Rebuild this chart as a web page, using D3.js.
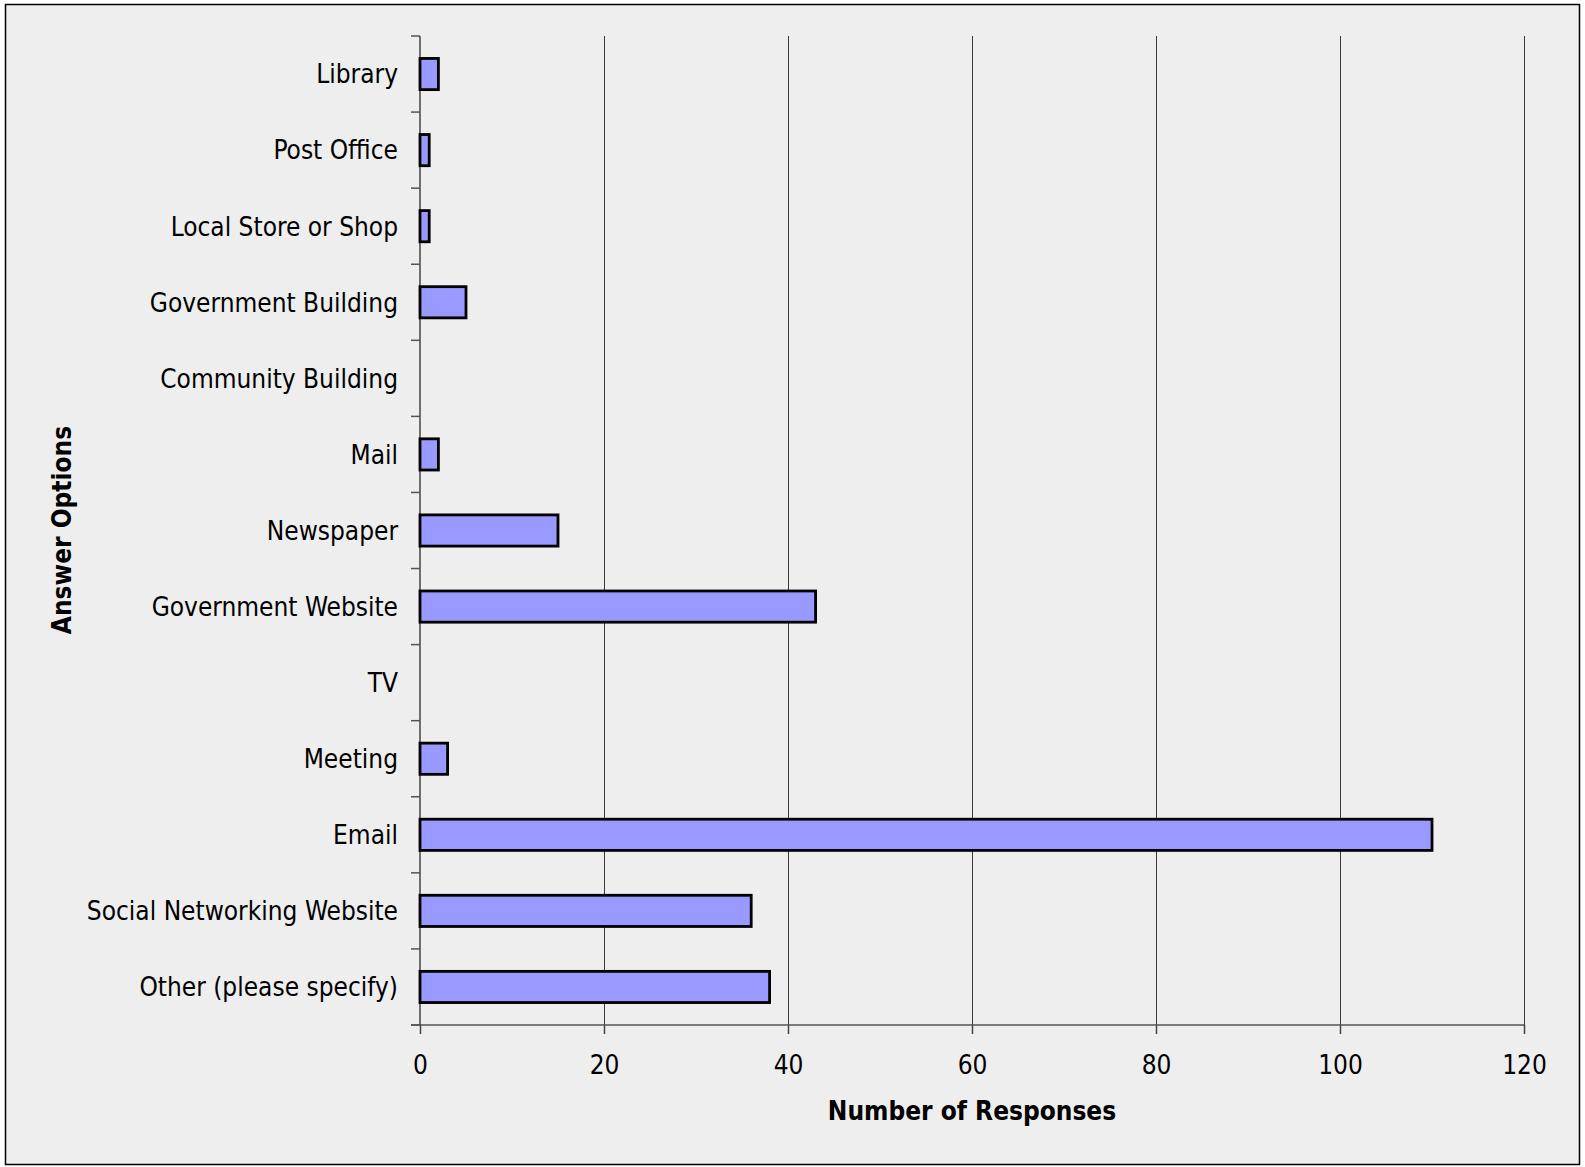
<!DOCTYPE html>
<html><head><meta charset="utf-8">
<script src="https://cdn.jsdelivr.net/npm/d3@7"></script>
<style>
html,body{margin:0;padding:0;background:#fff;}
svg{display:block;}
text{font-family:"DejaVu Sans Condensed","DejaVu Sans",sans-serif;fill:#000;}
</style></head>
<body>
<svg id="chart" width="1585" height="1167"></svg>
<script>
const categories = ["Library","Post Office","Local Store or Shop","Government Building","Community Building","Mail","Newspaper","Government Website","TV","Meeting","Email","Social Networking Website","Other (please specify)"];
const values = [2,1,1,5,0,2,15,43,0,3,110,36,38];
const xTicks = [0,20,40,60,80,100,120];
const xTitle = "Number of Responses";
const yTitle = "Answer Options";

(function(){
const svg = d3.select("#chart");
svg.append("rect").attr("x",5.5).attr("y",4.5).attr("width",1574).attr("height",1160)
  .attr("fill","#eeeeee").attr("stroke","#000").attr("stroke-width",1.5);

const pLeft=420, pRight=1524, pTop=36, pBottom=1025;
const x = d3.scaleLinear().domain([0,120]).range([pLeft,pRight]);
const y = d3.scaleBand().domain(categories).range([pTop,pBottom]).paddingInner(0.59).paddingOuter(0.295);
const crisp = v => Math.round(v) + 0.5;

svg.append("g").selectAll("line").data(xTicks.slice(1)).join("line")
  .attr("x1",d=>crisp(x(d))).attr("x2",d=>crisp(x(d))).attr("y1",pTop).attr("y2",pBottom)
  .attr("stroke","#3a3a3a").attr("stroke-width",1);

const xAxis = svg.append("g").attr("transform",`translate(0,${pBottom})`)
  .call(d3.axisBottom(x).tickValues(xTicks).tickSize(9).tickPadding(22));
xAxis.select(".domain").remove();
xAxis.selectAll(".tick line").attr("stroke","#444").attr("stroke-width",1.5);
xAxis.selectAll("text").attr("font-size",26).attr("font-family","DejaVu Sans Condensed, DejaVu Sans, sans-serif").attr("fill","#000");
svg.append("line").attr("x1",411).attr("x2",pRight).attr("y1",pBottom).attr("y2",pBottom)
  .attr("stroke","#555").attr("stroke-width",1.5);

svg.append("line").attr("x1",pLeft).attr("x2",pLeft).attr("y1",pTop).attr("y2",pBottom)
  .attr("stroke","#444").attr("stroke-width",1.5);
const bounds = d3.range(categories.length+1).map(i=>pTop+i*(pBottom-pTop)/categories.length);
svg.append("g").selectAll("line").data(bounds).join("line")
  .attr("x1",411).attr("x2",pLeft).attr("y1",d=>d).attr("y2",d=>d)
  .attr("stroke","#555").attr("stroke-width",1.5);

svg.append("g").selectAll("text").data(categories).join("text")
  .attr("x",398).attr("y",d=>y(d)+y.bandwidth()/2).attr("dy","0.36em")
  .attr("text-anchor","end").attr("font-size",26).text(d=>d);

svg.append("g").selectAll("rect").data(categories.map((c,i)=>({c,v:values[i]})).filter(d=>d.v>0)).join("rect")
  .attr("x",x(0)).attr("y",d=>y(d.c)).attr("width",d=>x(d.v)-x(0)).attr("height",y.bandwidth())
  .attr("fill","#9999ff").attr("stroke","#000").attr("stroke-width",2.8);

svg.append("text").attr("x",(pLeft+pRight)/2).attr("y",1120).attr("text-anchor","middle")
  .attr("font-size",26).attr("font-weight","bold").text(xTitle);
svg.append("text").attr("transform","translate(71,530) rotate(-90)").attr("text-anchor","middle")
  .attr("font-size",26).attr("font-weight","bold").text(yTitle);
})();
</script>
</body></html>
